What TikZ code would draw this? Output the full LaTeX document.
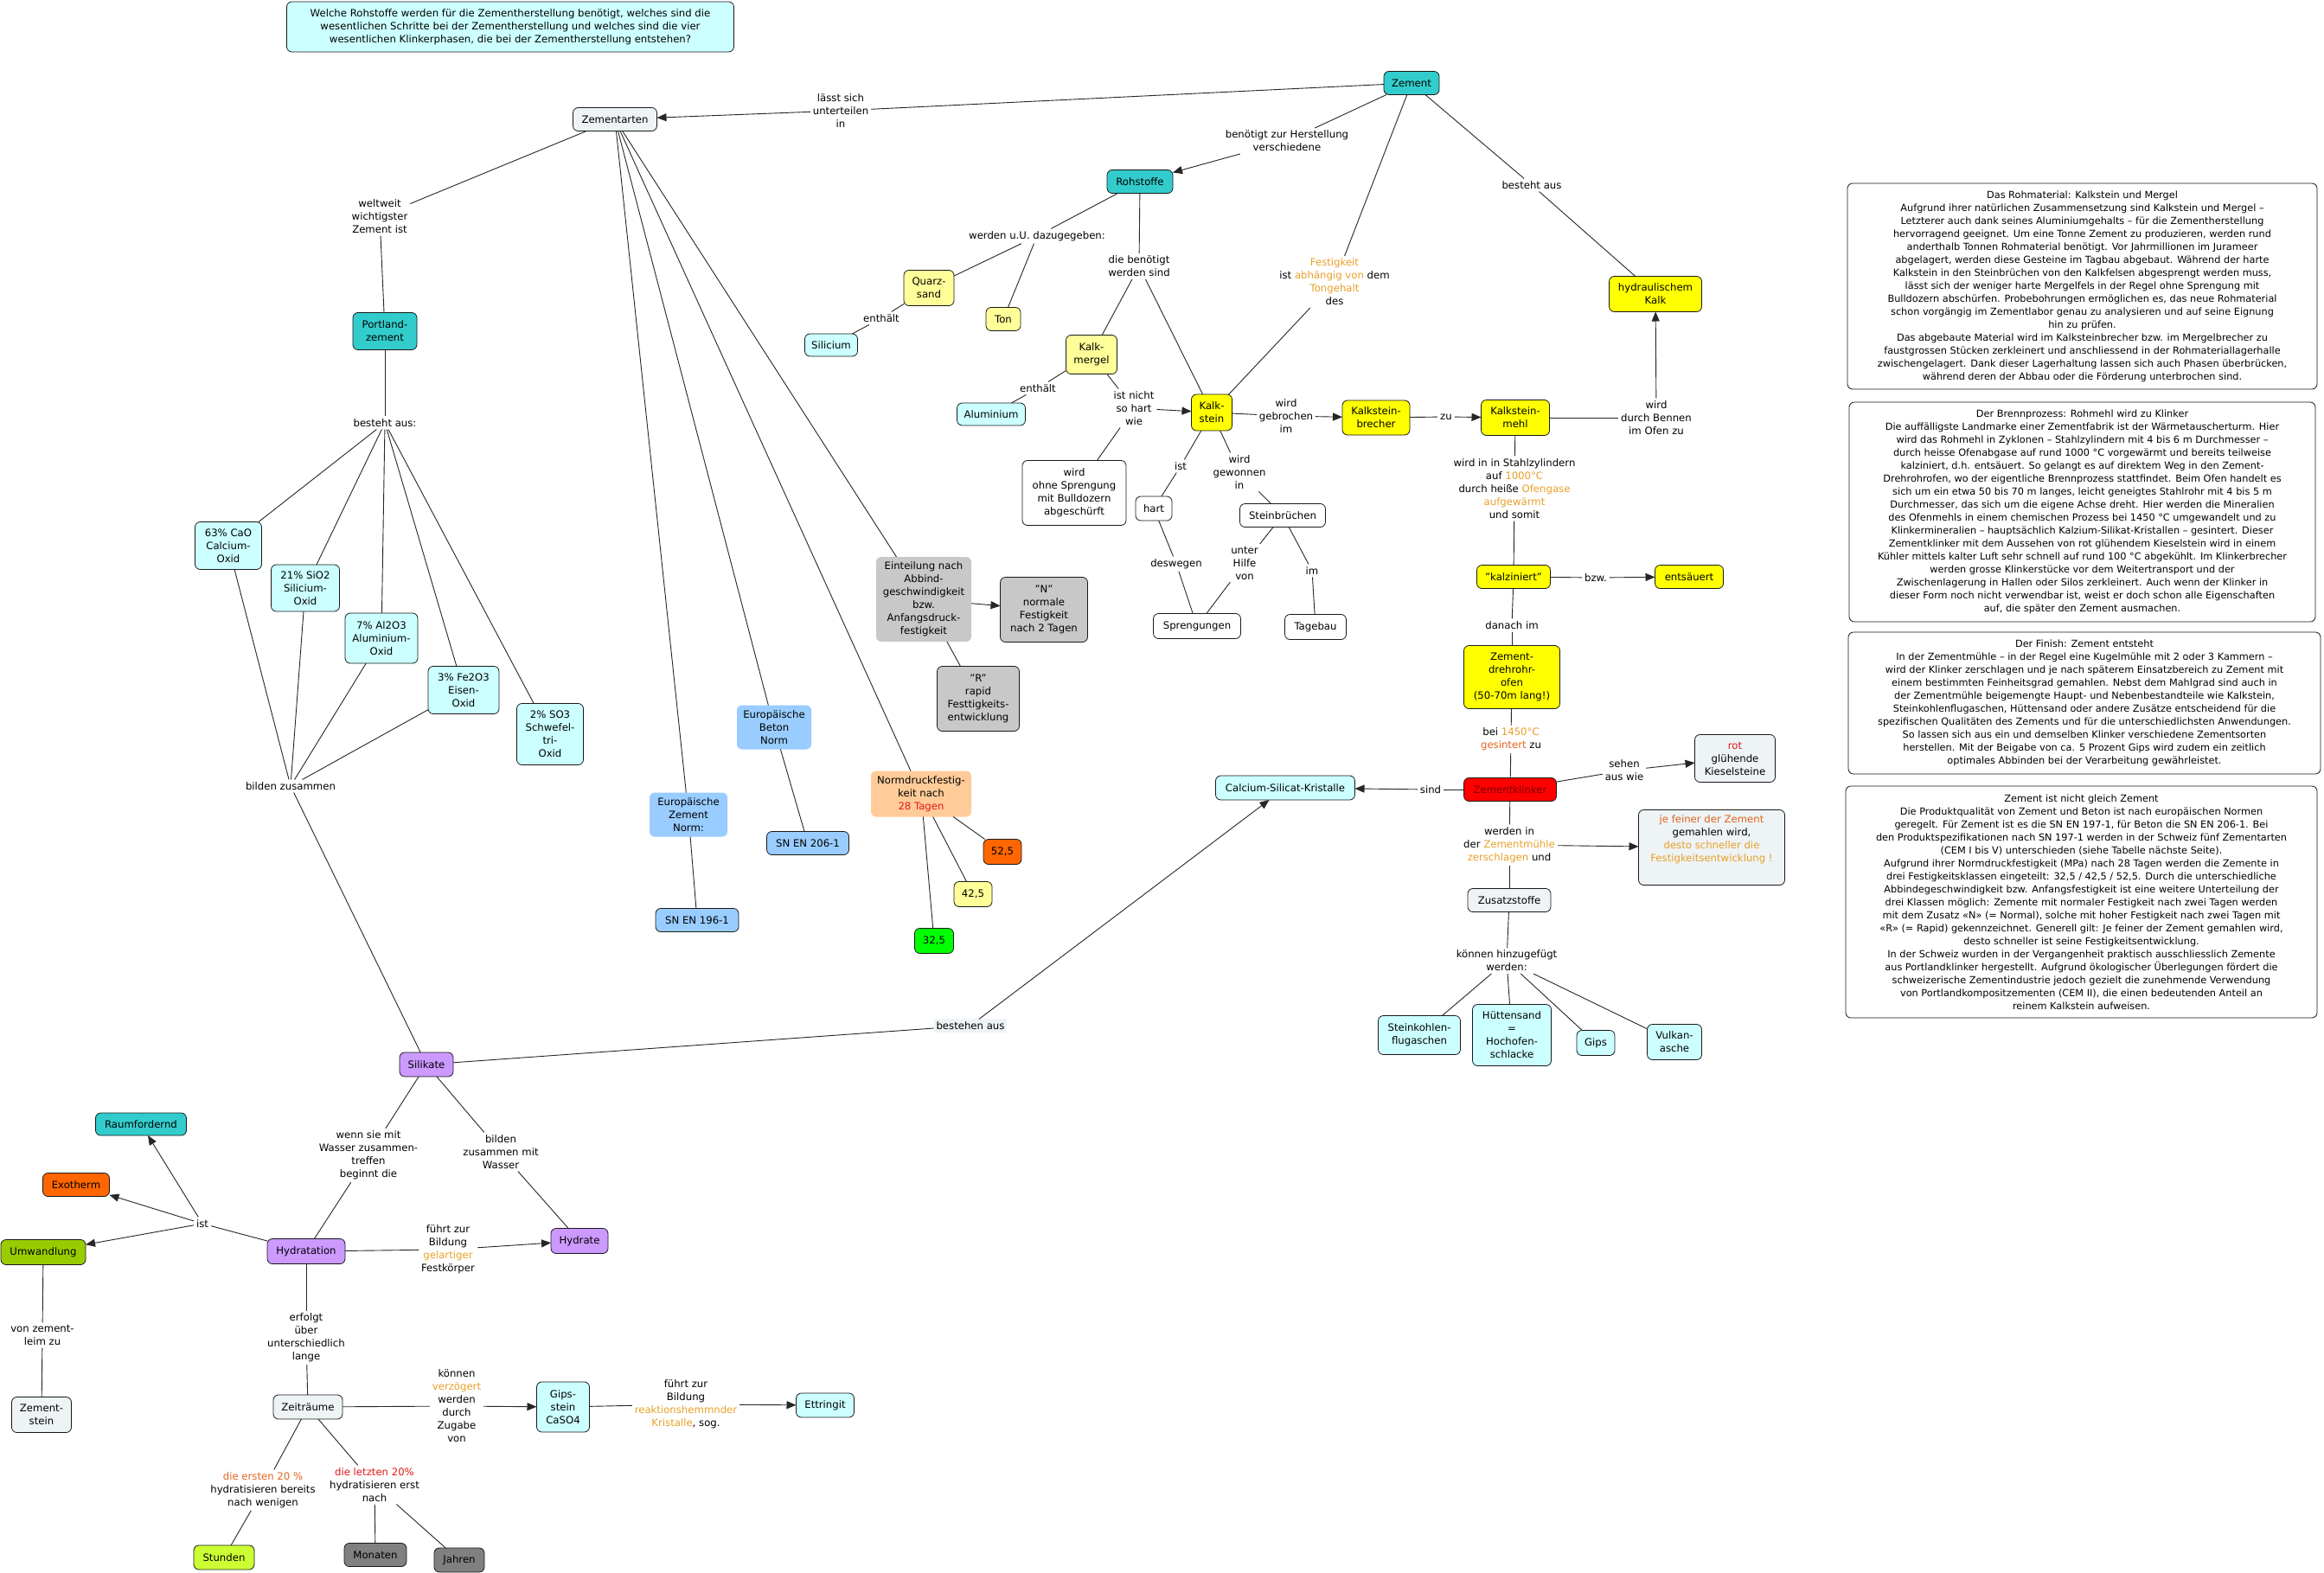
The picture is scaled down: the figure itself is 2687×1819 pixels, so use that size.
\documentclass[tikz,border=0pt]{standalone}
\usepackage{fontspec}
\setmainfont{DejaVu Sans}
\usetikzlibrary{arrows.meta}
\definecolor{cyanQ}{RGB}{204,255,255}
\definecolor{grayL}{RGB}{238,243,245}
\definecolor{tealF}{RGB}{51,204,204}
\definecolor{yelP}{RGB}{255,255,153}
\definecolor{yelF}{RGB}{255,255,0}
\definecolor{grayM}{RGB}{200,200,200}
\definecolor{blueL}{RGB}{153,204,255}
\definecolor{peachF}{RGB}{255,204,153}
\definecolor{orangeF}{RGB}{255,102,0}
\definecolor{greenF}{RGB}{0,255,0}
\definecolor{redF}{RGB}{255,0,0}
\definecolor{redD}{RGB}{120,0,0}
\definecolor{lavF}{RGB}{204,153,255}
\definecolor{oliveF}{RGB}{153,204,0}
\definecolor{limeF}{RGB}{204,255,51}
\definecolor{grayD}{RGB}{128,128,128}
\definecolor{orA}{RGB}{232,160,40}
\definecolor{orB}{RGB}{226,100,30}
\definecolor{redT}{RGB}{225,25,25}
\begin{document}
\begin{tikzpicture}[x=1pt,y=-1pt,
  every node/.style={font=\fontsize{11.7}{15}\selectfont, outer sep=0pt},
  box/.style={draw=black!90, line width=0.8pt, rounded corners=6pt, align=center, inner sep=3pt},
  nobox/.style={draw=none, rounded corners=6pt, align=center, inner sep=3pt},
  wh/.style 2 args={minimum width=#1, minimum height=#2},
  lbl/.style={align=center, inner sep=3pt},
  txtblk/.style={draw=black!90, line width=0.8pt, rounded corners=6pt, align=center, inner sep=3pt, font=\fontsize{11.3}{15}\selectfont},
  conn/.style={draw=black!85, line width=0.9pt},
  arr/.style={conn, -{Triangle[length=11pt,width=9pt]}}
]
\fill[white] (0,0) rectangle (2687,1819);
\useasboundingbox (0,0) rectangle (2687,1819);

% ---------- question ----------
\node[box, fill=cyanQ, wh={517}{58}] (q) at (590,31) {Welche Rohstoffe werden für die Zementherstellung benötigt, welches sind die\\wesentlichen Schritte bei der Zementherstellung und welches sind die vier\\wesentlichen Klinkerphasen, die bei der Zementherstellung entstehen?};

% ---------- upper right cluster ----------
\node[box, fill=grayL, wh={97}{27}] (zarten) at (711,138) {Zementarten};
\node[box, fill=tealF, wh={64}{27}] (zement) at (1632,96) {Zement};
\node[lbl] (l1) at (972,128) {lässt sich\\unterteilen\\in};
\node[lbl] (l2) at (1488,163) {benötigt zur Herstellung\\verschiedene};
\node[box, fill=tealF, wh={76}{27}] (roh) at (1318,210) {Rohstoffe};
\node[lbl] (l3) at (1543,326) {\textcolor{orA}{Festigkeit}\\ist \textcolor{orA}{abhängig von} dem\\\textcolor{orA}{Tongehalt}\\des};
\node[lbl] (l4) at (1771,214) {besteht aus};
\node[box, fill=yelF, wh={107}{41}] (hk) at (1914,340) {hydraulischem\\Kalk};
\node[lbl] (l5) at (1199,273) {werden u.U. dazugegeben:};
\node[lbl] (l6) at (1317,308) {die benötigt\\werden sind};
\node[box, fill=yelP, wh={58}{41}] (quarz) at (1074,333) {Quarz-\\sand};
\node[box, fill=yelP, wh={40}{27}] (ton) at (1160,369) {Ton};
\node[lbl] (l7) at (1019,368) {enthält};
\node[box, fill=cyanQ, wh={61}{26}] (sil) at (961,399) {Silicium};
\node[box, fill=yelP, wh={59}{45}] (kmerg) at (1262,410) {Kalk-\\mergel};
\node[lbl] (l8) at (1200,449) {enthält};
\node[box, fill=cyanQ, wh={79}{26}] (alu) at (1146,479) {Aluminium};
\node[lbl] (l9) at (1311,472) {ist nicht\\so hart\\wie};
\node[box, fill=yelF, wh={47}{42}] (kst) at (1401,477) {Kalk-\\stein};
\node[lbl] (l10) at (1487,481) {wird\\gebrochen\\im};
\node[box, fill=yelF, wh={78}{40}] (kbr) at (1591,483) {Kalkstein-\\brecher};
\node[lbl] (l11) at (1672,482) {zu};
\node[box, fill=yelF, wh={79}{41}] (kmehl) at (1752,483) {Kalkstein-\\mehl};
\node[lbl] (l12) at (1915,483) {wird\\durch Bennen\\im Ofen zu};
\node[box, fill=white, wh={120}{75}] (bull) at (1242,570) {wird\\ohne Sprengung\\mit Bulldozern\\abgeschürft};
\node[box, fill=white, wh={42}{28}] (hart) at (1334,588) {hart};
\node[lbl] (l13) at (1365,539) {ist};
\node[lbl] (l14) at (1433,546) {wird\\gewonnen\\in};
\node[box, fill=white, wh={99}{27}] (stb) at (1483,596) {Steinbrüchen};
\node[lbl] (l15) at (1360,652) {deswegen};
\node[lbl] (l16) at (1439,651) {unter\\Hilfe\\von};
\node[lbl] (l17) at (1517,660) {im};
\node[box, fill=white, wh={101}{29}] (spr) at (1384,724) {Sprengungen};
\node[box, fill=white, wh={71}{29}] (tag) at (1521,725) {Tagebau};
\node[lbl] (l18) at (1751,565) {wird in in Stahlzylindern\\auf \textcolor{orA}{1000°C}\\durch heiße \textcolor{orA}{Ofengase}\\\textcolor{orA}{aufgewärmt}\\und somit};
\node[box, fill=yelF, wh={85}{27}] (kalz) at (1750,667) {"kalziniert"};
\node[lbl] (l19) at (1845,668) {bzw.};
\node[box, fill=yelF, wh={79}{27}] (ents) at (1953,667) {entsäuert};
\node[lbl] (l20) at (1748,723) {danach im};
\node[box, fill=yelF, wh={111}{73}] (ofen) at (1748,783) {Zement-\\drehrohr-\\ofen\\(50-70m lang!)};
\node[lbl] (l21) at (1747,855) {bei \textcolor{orA}{1450°C}\\\textcolor{orB}{gesintert} zu};
\node[box, fill=redF, text=redD, wh={107}{27}] (zk) at (1746,913) {Zementklinker};
\node[lbl] (l22) at (1654,913) {sind};
\node[box, fill=cyanQ, wh={161}{28}] (csk) at (1486,911) {Calcium-Silicat-Kristalle};
\node[lbl] (l23) at (1878,891) {sehen\\aus wie};
\node[box, fill=grayL, wh={93}{55}] (kies) at (2006,877) {\textcolor{redT}{rot}\\glühende\\Kieselsteine};
\node[lbl] (l24) at (1745,977) {werden in\\der \textcolor{orA}{Zementmühle}\\\textcolor{orA}{zerschlagen} und};
\node[box, fill=grayL, wh={169}{87}] (fein) at (1979,980) {\textcolor{orB}{je feiner der Zement}\\gemahlen wird,\\\textcolor{orA}{desto schneller die}\\\textcolor{orA}{Festigkeitsentwicklung !}\\[6pt]};
\node[box, fill=grayL, wh={96}{27}] (zus) at (1745,1041) {Zusatzstoffe};
\node[lbl] (l25) at (1742,1111) {können hinzugefügt\\werden:};
\node[box, fill=cyanQ, wh={95}{45}] (skf) at (1641,1197) {Steinkohlen-\\flugaschen};
\node[box, fill=cyanQ, wh={91}{71}] (hs) at (1748,1197) {Hüttensand\\=\\Hochofen-\\schlacke};
\node[box, fill=cyanQ, wh={44}{29}] (gips) at (1845,1206) {Gips};
\node[box, fill=cyanQ, wh={63}{41}] (vulk) at (1936,1205) {Vulkan-\\asche};

% ---------- left / middle ----------
\node[lbl] (l26) at (439,250) {weltweit\\wichtigster\\Zement ist};
\node[box, fill=tealF, wh={74}{43}] (pz) at (445,383) {Portland-\\zement};
\node[lbl] (l27) at (445,489) {besteht aus:};
\node[box, fill=cyanQ, wh={77}{55}] (cao) at (264,631) {63\% CaO\\Calcium-\\Oxid};
\node[box, fill=cyanQ, wh={79}{54}] (sio) at (353,680) {21\% SiO2\\Silicium-\\Oxid};
\node[box, fill=cyanQ, wh={84}{58}] (alo) at (441,738) {7\% Al2O3\\Aluminium-\\Oxid};
\node[box, fill=cyanQ, wh={82}{55}] (feo) at (536,798) {3\% Fe2O3\\Eisen-\\Oxid};
\node[box, fill=cyanQ, wh={77}{71}] (so3) at (636,849) {2\% SO3\\Schwefel-\\tri-\\Oxid};
\node[lbl] (l28) at (336,909) {bilden zusammen};

\node[nobox, fill=grayM, wh={110}{98}] (ein) at (1068,693) {Einteilung nach\\Abbind-\\geschwindigkeit\\bzw.\\Anfangsdruck-\\festigkeit};
\node[box, fill=grayM, wh={101}{75}] (nn) at (1207,705) {"N"\\normale\\Festigkeit\\nach 2 Tagen};
\node[box, fill=grayM, wh={95}{75}] (rr) at (1131,808) {"R"\\rapid\\Festtigkeits-\\entwicklung};
\node[nobox, fill=blueL, wh={86}{51}] (ebn) at (895,841) {Europäische\\Beton\\Norm};
\node[nobox, fill=blueL, wh={90}{51}] (ezn) at (796,942) {Europäische\\Zement\\Norm:};
\node[box, fill=blueL, wh={95}{27}] (sn206) at (934,975) {SN EN 206-1};
\node[box, fill=blueL, wh={96}{27}] (sn196) at (806,1064) {SN EN 196-1};
\node[nobox, fill=peachF, wh={116}{53}] (ndf) at (1065,918) {Normdruckfestig-\\keit nach\\\textcolor{redT}{28 Tagen}};
\node[box, fill=orangeF, wh={44}{29}] (k52) at (1159,985) {52,5};
\node[box, fill=yelP, wh={44}{29}] (k42) at (1125,1034) {42,5};
\node[box, fill=greenF, wh={45}{29}] (k32) at (1080,1088) {32,5};

% ---------- bottom left ----------
\node[box, fill=lavF, wh={62}{28}] (silk) at (493,1231) {Silikate};
\node[lbl, fill=grayL] (l29) at (1122,1186) {bestehen aus};
\node[lbl] (l30) at (426,1336) {wenn sie mit\\Wasser zusammen-\\treffen\\beginnt die};
\node[lbl] (l31) at (579,1332) {bilden\\zusammen mit\\Wasser};
\node[box, fill=tealF, wh={105}{26}] (raum) at (163,1300) {Raumfordernd};
\node[box, fill=orangeF, wh={77}{27}] (exo) at (88,1370) {Exotherm};
\node[lbl] (l32) at (234,1415) {ist};
\node[box, fill=oliveF, wh={98}{29}] (umw) at (50,1448) {Umwandlung};
\node[box, fill=lavF, wh={90}{29}] (hyd) at (354,1447) {Hydratation};
\node[lbl] (l33) at (518,1445) {führt zur\\Bildung\\\textcolor{orA}{gelartiger}\\Festkörper};
\node[box, fill=lavF, wh={66}{29}] (hydr) at (670,1435) {Hydrate};
\node[lbl] (l34) at (49,1544) {von zement-\\leim zu};
\node[box, fill=grayL, wh={69}{41}] (zst) at (48,1636) {Zement-\\stein};
\node[lbl] (l35) at (354,1547) {erfolgt\\über\\unterschiedlich\\lange};
\node[box, fill=grayL, wh={80}{28}] (zeit) at (356,1627) {Zeiträume};
\node[lbl] (l36) at (528,1626) {können\\\textcolor{orA}{verzögert}\\werden\\durch\\Zugabe\\von};
\node[box, fill=cyanQ, wh={61}{58}] (gst) at (651,1627) {Gips-\\stein\\CaSO4};
\node[lbl] (l37) at (793,1624) {führt zur\\Bildung\\\textcolor{orA}{reaktionshemmnder}\\\textcolor{orA}{Kristalle}, sog.};
\node[box, fill=cyanQ, wh={67}{28}] (ett) at (954,1625) {Ettringit};
\node[lbl] (l38) at (304,1723) {\textcolor{orB}{die ersten 20 \%}\\hydratisieren bereits\\nach wenigen};
\node[lbl] (l39) at (433,1717) {\textcolor{redT}{die letzten 20\%}\\hydratisieren erst\\nach};
\node[box, fill=limeF, wh={70}{28}] (std) at (259,1801) {Stunden};
\node[box, fill=grayD, wh={72}{27}] (mon) at (434,1798) {Monaten};
\node[box, fill=grayD, wh={58}{28}] (jah) at (531,1804) {Jahren};

% ---------- text blocks ----------
\node[txtblk, wh={543}{238}] (t1) at (2407.5,331) {Das Rohmaterial: Kalkstein und Mergel\\
Aufgrund ihrer natürlichen Zusammensetzung sind Kalkstein und Mergel –\\
Letzterer auch dank seines Aluminiumgehalts – für die Zementherstellung\\
hervorragend geeignet. Um eine Tonne Zement zu produzieren, werden rund\\
anderthalb Tonnen Rohmaterial benötigt. Vor Jahrmillionen im Jurameer\\
abgelagert, werden diese Gesteine im Tagbau abgebaut. Während der harte\\
Kalkstein in den Steinbrüchen von den Kalkfelsen abgesprengt werden muss,\\
lässt sich der weniger harte Mergelfels in der Regel ohne Sprengung mit\\
Bulldozern abschürfen. Probebohrungen ermöglichen es, das neue Rohmaterial\\
schon vorgängig im Zementlabor genau zu analysieren und auf seine Eignung\\
hin zu prüfen.\\
Das abgebaute Material wird im Kalksteinbrecher bzw. im Mergelbrecher zu\\
faustgrossen Stücken zerkleinert und anschliessend in der Rohmateriallagerhalle\\
zwischengelagert. Dank dieser Lagerhaltung lassen sich auch Phasen überbrücken,\\
während deren der Abbau oder die Förderung unterbrochen sind.};

\node[txtblk, wh={539}{254}] (t2) at (2407.5,592) {Der Brennprozess: Rohmehl wird zu Klinker\\
Die auffälligste Landmarke einer Zementfabrik ist der Wärmetauscherturm. Hier\\
wird das Rohmehl in Zyklonen – Stahlzylindern mit 4 bis 6 m Durchmesser –\\
durch heisse Ofenabgase auf rund 1000 °C vorgewärmt und bereits teilweise\\
kalziniert, d.h. entsäuert. So gelangt es auf direktem Weg in den Zement-\\
Drehrohrofen, wo der eigentliche Brennprozess stattfindet. Beim Ofen handelt es\\
sich um ein etwa 50 bis 70 m langes, leicht geneigtes Stahlrohr mit 4 bis 5 m\\
Durchmesser, das sich um die eigene Achse dreht. Hier werden die Mineralien\\
des Ofenmehls in einem chemischen Prozess bei 1450 °C umgewandelt und zu\\
Klinkermineralien – hauptsächlich Kalzium-Silikat-Kristallen – gesintert. Dieser\\
Zementklinker mit dem Aussehen von rot glühendem Kieselstein wird in einem\\
Kühler mittels kalter Luft sehr schnell auf rund 100 °C abgekühlt. Im Klinkerbrecher\\
werden grosse Klinkerstücke vor dem Weitertransport und der\\
Zwischenlagerung in Hallen oder Silos zerkleinert. Auch wenn der Klinker in\\
dieser Form noch nicht verwendbar ist, weist er doch schon alle Eigenschaften\\
auf, die später den Zement ausmachen.};

\node[txtblk, wh={546}{164}] (t3) at (2410,813) {Der Finish: Zement entsteht\\
In der Zementmühle – in der Regel eine Kugelmühle mit 2 oder 3 Kammern –\\
wird der Klinker zerschlagen und je nach späterem Einsatzbereich zu Zement mit\\
einem bestimmten Feinheitsgrad gemahlen. Nebst dem Mahlgrad sind auch in\\
der Zementmühle beigemengte Haupt- und Nebenbestandteile wie Kalkstein,\\
Steinkohlenflugaschen, Hüttensand oder andere Zusätze entscheidend für die\\
spezifischen Qualitäten des Zements und für die unterschiedlichsten Anwendungen.\\
So lassen sich aus ein und demselben Klinker verschiedene Zementsorten\\
herstellen. Mit der Beigabe von ca. 5 Prozent Gips wird zudem ein zeitlich\\
optimales Abbinden bei der Verarbeitung gewährleistet.};

\node[txtblk, wh={545}{268}] (t4) at (2406.5,1043) {Zement ist nicht gleich Zement\\
Die Produktqualität von Zement und Beton ist nach europäischen Normen\\
geregelt. Für Zement ist es die SN EN 197-1, für Beton die SN EN 206-1. Bei\\
den Produktspezifikationen nach SN 197-1 werden in der Schweiz fünf Zementarten\\
(CEM I bis V) unterschieden (siehe Tabelle nächste Seite).\\
Aufgrund ihrer Normdruckfestigkeit (MPa) nach 28 Tagen werden die Zemente in\\
drei Festigkeitsklassen eingeteilt: 32,5 / 42,5 / 52,5. Durch die unterschiedliche\\
Abbindegeschwindigkeit bzw. Anfangsfestigkeit ist eine weitere Unterteilung der\\
drei Klassen möglich: Zemente mit normaler Festigkeit nach zwei Tagen werden\\
mit dem Zusatz «N» (= Normal), solche mit hoher Festigkeit nach zwei Tagen mit\\
«R» (= Rapid) gekennzeichnet. Generell gilt: Je feiner der Zement gemahlen wird,\\
desto schneller ist seine Festigkeitsentwicklung.\\
In der Schweiz wurden in der Vergangenheit praktisch ausschliesslich Zemente\\
aus Portlandklinker hergestellt. Aufgrund ökologischer Überlegungen fördert die\\
schweizerische Zementindustrie jedoch gezielt die zunehmende Verwendung\\
von Portlandkompositzementen (CEM II), die einen bedeutenden Anteil an\\
reinem Kalkstein aufweisen.};

% ---------- connectors ----------
\draw[conn] (zement) -- (l1); \draw[arr] (l1) -- (zarten);
\draw[conn] (zement) -- (l2); \draw[arr] (l2) -- (roh);
\draw[conn] (zement) -- (l3); \draw[conn] (l3) -- (kst);
\draw[conn] (zement) -- (l4); \draw[conn] (l4) -- (hk);
\draw[conn] (roh) -- (l5); \draw[conn] (l5) -- (quarz); \draw[conn] (l5) -- (ton);
\draw[conn] (roh) -- (l6); \draw[conn] (l6) -- (kmerg); \draw[conn] (l6) -- (kst);
\draw[conn] (quarz) -- (l7); \draw[conn] (l7) -- (sil);
\draw[conn] (kmerg) -- (l8); \draw[conn] (l8) -- (alu);
\draw[conn] (kmerg) -- (l9); \draw[arr] (l9) -- (kst); \draw[conn] (l9) -- (bull);
\draw[conn] (kst) -- (l10); \draw[arr] (l10) -- (kbr);
\draw[conn] (kbr) -- (l11); \draw[arr] (l11) -- (kmehl);
\draw[conn] (kmehl) -- (l12); \draw[arr] (l12) -- (hk);
\draw[conn] (kmehl) -- (l18); \draw[conn] (l18) -- (kalz);
\draw[conn] (kalz) -- (l19); \draw[arr] (l19) -- (ents);
\draw[conn] (kalz) -- (l20); \draw[conn] (l20) -- (ofen);
\draw[conn] (kst) -- (l13); \draw[conn] (l13) -- (hart);
\draw[conn] (hart) -- (l15); \draw[conn] (l15) -- (spr);
\draw[conn] (kst) -- (l14); \draw[conn] (l14) -- (stb);
\draw[conn] (stb) -- (l16); \draw[conn] (l16) -- (spr);
\draw[conn] (stb) -- (l17); \draw[conn] (l17) -- (tag);
\draw[conn] (ofen) -- (l21); \draw[conn] (l21) -- (zk);
\draw[conn] (zk) -- (l22); \draw[arr] (l22) -- (csk);
\draw[conn] (zk) -- (l23); \draw[arr] (l23) -- (kies);
\draw[conn] (zk) -- (l24); \draw[arr] (l24) -- (fein); \draw[conn] (l24) -- (zus);
\draw[conn] (zus) -- (l25);
\draw[conn] (l25) -- (skf); \draw[conn] (l25) -- (hs); \draw[conn] (l25) -- (gips); \draw[conn] (l25) -- (vulk);

\draw[conn] (zarten) -- (l26); \draw[conn] (l26) -- (pz);
\draw[conn] (zarten) -- (ezn); \draw[conn] (zarten) -- (ebn);
\draw[conn] (zarten) -- (ndf); \draw[conn] (zarten) -- (ein);
\draw[conn] (ezn) -- (sn196); \draw[conn] (ebn) -- (sn206);
\draw[arr] (ein) -- (nn); \draw[conn] (ein) -- (rr);
\draw[conn] (ndf) -- (k52); \draw[conn] (ndf) -- (k42); \draw[conn] (ndf) -- (k32);
\draw[conn] (pz) -- (l27);
\draw[conn] (l27) -- (cao); \draw[conn] (l27) -- (sio); \draw[conn] (l27) -- (alo);
\draw[conn] (l27) -- (feo); \draw[conn] (l27) -- (so3);
\draw[conn] (cao) -- (l28); \draw[conn] (sio) -- (l28); \draw[conn] (alo) -- (l28); \draw[conn] (feo) -- (l28);
\draw[conn] (l28) -- (silk);

\draw[conn] (silk) -- (l29); \draw[arr] (l29) -- (csk);
\draw[conn] (silk) -- (l30); \draw[conn] (l30) -- (hyd);
\draw[conn] (silk) -- (l31); \draw[conn] (l31) -- (hydr);
\draw[conn] (hyd) -- (l33); \draw[arr] (l33) -- (hydr);
\draw[conn] (hyd) -- (l32);
\draw[arr] (l32) -- (raum); \draw[arr] (l32) -- (exo); \draw[arr] (l32) -- (umw);
\draw[conn] (umw) -- (l34); \draw[conn] (l34) -- (zst);
\draw[conn] (hyd) -- (l35); \draw[conn] (l35) -- (zeit);
\draw[conn] (zeit) -- (l36); \draw[arr] (l36) -- (gst);
\draw[conn] (gst) -- (l37); \draw[arr] (l37) -- (ett);
\draw[conn] (zeit) -- (l38); \draw[conn] (l38) -- (std);
\draw[conn] (zeit) -- (l39); \draw[conn] (l39) -- (mon); \draw[conn] (l39) -- (jah);
\end{tikzpicture}
\end{document}
